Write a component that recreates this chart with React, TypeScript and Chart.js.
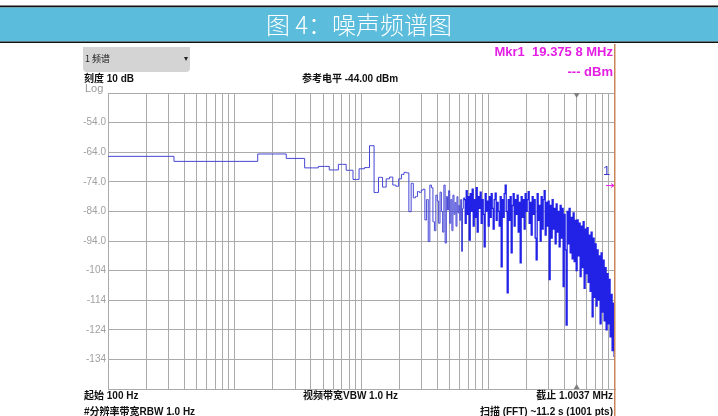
import { useEffect, useRef } from 'react';
import { Chart, registerables } from 'chart.js';

Chart.register(...registerables);

const W = 718;
const H = 416;

// Low-frequency FFT bins (kHz) and levels (dBm), read step by step from the trace
const binFreqKHz = [
  0.1, 1.1, 2.1, 3.1, 4.1, 5.1, 6.1, 7.1, 8.1, 9.1,
  10.1, 11.1, 12.1, 13.1, 14.2, 15.2, 16.2, 17.2, 18.2, 19.2,
  20.2, 21.2, 22.2, 23.2, 24.2, 25.2, 26.2, 27.2, 28.2, 29.2,
  30.2, 31.2, 32.2, 33.2, 34.2, 35.2, 36.2, 37.2, 38.2, 39.2,
  40.2, 41.2, 42.3, 43.3, 44.3, 45.3, 46.3, 47.3, 48.3, 49.3,
  50.3, 51.3, 52.3, 53.3, 54.3, 55.3, 56.3, 57.3, 58.3, 59.3,
  60.3, 61.3, 62.3, 63.3, 64.3,
];
const binLevelDbm = [
  -65.4, -67.1, -64.6, -66.1, -69.3, -68.8, -70.0, -68.1, -70.1, -73.2,
  -69.6, -69.2, -61.8, -77.6, -72.5, -75.8, -73.0, -72.4, -75.1, -75.5,
  -73.0, -71.5, -70.8, -71.0, -84.1, -74.5, -79.4, -79.0, -77.3, -77.6,
  -76.8, -76.5, -86.9, -80.0, -94.2, -75.1, -76.0, -87.5, -90.5, -78.5,
  -80.5, -88.0, -77.5, -84.0, -91.0, -75.1, -94.7, -79.0, -83.5, -77.0,
  -88.0, -80.0, -90.5, -78.5, -85.0, -81.0, -89.0, -79.0, -84.5, -82.0,
  -87.0, -80.0, -97.5, -83.0, -79.5,
];

// Dense upper part of the spectrum (kHz, dBm), read column by column
const denseFreqKHz = [
  65.4, 66.6, 67.8, 69.0, 70.3,
  71.6, 72.9, 74.2, 75.6, 77.0,
  78.4, 79.8, 81.3, 82.8, 84.3,
  85.9, 87.4, 89.0, 90.7, 92.3,
  94.0, 95.7, 97.5, 99.3, 101.1,
  103.0, 104.9, 106.8, 108.7, 110.7,
  112.7, 114.8, 116.9, 119.0, 121.2,
  123.5, 125.7, 128.0, 130.4, 132.8,
  135.2, 137.7, 140.2, 142.8, 145.4,
  148.0, 150.7, 153.5, 156.3, 159.2,
  162.1, 165.1, 168.1, 171.2, 174.3,
  177.6, 180.8, 184.1, 187.5, 190.9,
  194.4, 198.0, 201.6, 205.3, 209.1,
  212.9, 216.8, 220.8, 224.8, 228.9,
  233.1, 237.4, 241.7, 246.2, 250.7,
  255.3, 260.0, 264.7, 269.6, 274.5,
  279.6, 284.7, 289.9, 295.2, 300.6,
  306.1, 311.7, 317.5, 323.3, 329.2,
  335.2, 341.4, 347.6, 354.0, 360.5,
  367.1, 373.8, 380.7, 387.6, 394.7,
  401.9, 409.3, 416.8, 424.4, 432.2,
  440.1, 448.2, 456.4, 464.7, 473.3,
  482.0, 490.8, 499.8, 509.0, 518.3,
  527.8, 537.5, 547.3, 557.4, 567.6,
  577.9, 588.5, 599.3, 610.3, 621.5,
  632.9, 644.5, 656.3, 668.3, 680.6,
  693.0, 705.7, 718.7, 731.8, 745.2,
  758.8, 772.8, 786.9, 801.4, 816.1,
  831.1, 846.3, 861.8, 877.6, 893.7,
  910.0, 926.7, 943.7, 961.0, 978.6,
  996.5, 1003.7,
];
const denseLevelDbm = [
  -80, -88, -77, -85, -79,
  -93.7, -78, -84, -76.5, -89,
  -80, -86, -76, -91, -79,
  -83, -77.5, -88, -80, -85,
  -96, -78, -84, -80.5, -89,
  -79, -86, -78, -83, -90,
  -80, -77.8, -87, -81, -84,
  -89, -79, -102.7, -80, -86,
  -78, -75.1, -84, -111.5, -80,
  -87, -79, -98, -82, -78,
  -89, -80, -85, -78.5, -91,
  -81, -101.4, -79, -86, -80,
  -90, -78, -84, -80, -77.3,
  -88, -81, -92, -79, -85,
  -80, -93, -100.4, -78, -87,
  -82, -94, -79, -90, -80,
  -77, -92, -81, -89, -80.5,
  -107, -82, -93, -80, -90,
  -83, -95, -81.5, -91, -84,
  -96, -82, -93, -83, -109.4,
  -85, -97, -122.4, -84, -95,
  -83, -98, -86, -100, -84.5,
  -101, -87, -104, -86.9, -99,
  -88, -106, -89, -103, -87.5,
  -110, -90, -105, -89.5, -108,
  -92, -111, -91, -119.6, -93,
  -113, -95, -116, -97, -114,
  -99, -122, -98, -118, -100.5,
  -121, -103, -124, -105, -122,
  -107, -126.4, -112, -131, -115,
  -133, -118,
];

// Log grid (Hz)
const xGridHz = [
  100, 200, 300, 400, 500, 600, 700, 800, 900,
  1000, 2000, 3000, 4000, 5000, 6000, 7000, 8000, 9000,
  10000, 20000, 30000, 40000, 50000, 60000, 70000, 80000, 90000,
  100000, 200000, 300000, 400000, 500000, 600000, 700000, 800000, 900000,
  1000000,
];
const xMinHz = 100;
const xMaxHz = 1003700;

const yTickValues = [-144, -134, -124, -114, -104, -94, -84, -74, -64, -54, -44];
const yTickLabels = ['', '-134', '-124', '-114', '-104', '-94.0', '-84.0', '-74.0', '-64.0', '-54.0', ''];

const markerFreqHz = 500000;
const markerLevelDbm = -75.1;

const GRID = '#aaaaaa';
const MAGENTA = '#e41ee4';
const TRACE_LIGHT = '#4646d6';
const TRACE_DENSE = '#2222e6';
const LATIN = '"Liberation Sans", Arial, "Noto Sans CJK SC", sans-serif';

export default function App() {
  const ref = useRef<HTMLCanvasElement>(null);

  useEffect(() => {
    const canvas = ref.current;
    if (!canvas) return;

    const lowPoints = binFreqKHz.map((f, i) => ({ x: f * 1000, y: binLevelDbm[i] }));
    const densePoints = denseFreqKHz.map((f, i) => ({ x: f * 1000, y: denseLevelDbm[i] }));
    const lastLow = lowPoints[lowPoints.length - 1];

    const overlay = {
      id: 'overlay',
      beforeDraw(chart: any) {
        const ctx = chart.ctx as CanvasRenderingContext2D;
        ctx.save();
        ctx.fillStyle = '#ffffff';
        ctx.fillRect(0, 0, W, H);
        // header bar
        ctx.fillStyle = '#111111';
        ctx.fillRect(0, 5.5, W, 2);
        ctx.fillStyle = '#5bbddb';
        ctx.fillRect(0, 7.5, W, 34);
        ctx.fillStyle = '#111111';
        ctx.fillRect(0, 41.5, W, 1.5);
        ctx.fillStyle = '#ffffff';
        ctx.font = '300 24px "Noto Sans CJK SC", sans-serif';
        ctx.textAlign = 'center';
        ctx.textBaseline = 'middle';
        ctx.fillText('图 4：噪声频谱图', 359, 25);

        // dropdown box
        ctx.fillStyle = '#d4d4d4';
        ctx.beginPath();
        (ctx as any).roundRect(83, 47, 107, 25, [0, 0, 4, 4]);
        ctx.fill();
        ctx.fillStyle = '#222222';
        ctx.font = '9px "Noto Sans CJK SC", sans-serif';
        ctx.textAlign = 'left';
        ctx.fillText('1 频谱', 85, 59);
        ctx.beginPath();
        ctx.moveTo(184, 57);
        ctx.lineTo(188, 57);
        ctx.lineTo(186, 61);
        ctx.closePath();
        ctx.fill();
        ctx.restore();
      },
      afterDraw(chart: any) {
        const ctx = chart.ctx as CanvasRenderingContext2D;
        const xs = chart.scales.x;
        const ys = chart.scales.y;
        const area = chart.chartArea;
        ctx.save();
        ctx.textBaseline = 'middle';

        // top labels
        ctx.fillStyle = '#111111';
        ctx.font = `bold 10px ${LATIN}`;
        ctx.textAlign = 'left';
        ctx.fillText('刻度 10 dB', 84, 79.5);
        ctx.fillText('参考电平 -44.00 dBm', 302, 79.5);
        ctx.fillStyle = '#9a9a9a';
        ctx.font = `11px ${LATIN}`;
        ctx.textBaseline = 'alphabetic';
        ctx.fillText('Log', 85, 92);
        ctx.textBaseline = 'middle';

        ctx.fillStyle = MAGENTA;
        ctx.font = `bold 13px ${LATIN}`;
        ctx.textAlign = 'right';
        ctx.fillText('Mkr1  19.375 8 MHz', 613, 52);
        ctx.fillText('--- dBm', 613, 72.5);

        // bottom labels
        ctx.fillStyle = '#111111';
        ctx.font = `bold 10px ${LATIN}`;
        ctx.textAlign = 'left';
        ctx.fillText('起始 100 Hz', 84, 396.5);
        ctx.fillText('视频带宽VBW 1.0 Hz', 303, 396.5);
        ctx.fillText('#分辨率带宽RBW 1.0 Hz', 84, 412);
        ctx.textAlign = 'right';
        ctx.fillText('截止 1.0037 MHz', 613, 396.5);
        ctx.fillText('扫描 (FFT) ~11.2 s (1001 pts)', 613, 412);

        // marker triangles
        const mx = xs.getPixelForValue(markerFreqHz);
        ctx.fillStyle = '#808080';
        ctx.beginPath();
        ctx.moveTo(mx - 3, area.top);
        ctx.lineTo(mx + 3, area.top);
        ctx.lineTo(mx, area.top + 5);
        ctx.closePath();
        ctx.fill();
        ctx.beginPath();
        ctx.moveTo(mx - 3, area.bottom);
        ctx.lineTo(mx + 3, area.bottom);
        ctx.lineTo(mx, area.bottom - 5);
        ctx.closePath();
        ctx.fill();

        // marker 1 label at right edge
        const my = ys.getPixelForValue(markerLevelDbm);
        ctx.fillStyle = '#3a3ad0';
        ctx.font = `13px ${LATIN}`;
        ctx.textAlign = 'center';
        ctx.fillText('1', 606.5, my - 14);
        ctx.strokeStyle = MAGENTA;
        ctx.lineWidth = 1;
        ctx.beginPath();
        ctx.moveTo(606, my + 0.5);
        ctx.lineTo(614, my + 0.5);
        ctx.moveTo(611, my - 1.5);
        ctx.lineTo(614, my + 0.5);
        ctx.lineTo(611, my + 2.5);
        ctx.stroke();

        // orange right border
        ctx.strokeStyle = '#c9865a';
        ctx.lineWidth = 1.5;
        ctx.beginPath();
        ctx.moveTo(614.75, 44);
        ctx.lineTo(614.75, H);
        ctx.stroke();
        ctx.restore();
      },
    };

    const chart = new Chart(canvas, {
      type: 'line',
      data: {
        datasets: [
          {
            data: lowPoints,
            stepped: 'middle',
            borderColor: TRACE_LIGHT,
            borderWidth: 1,
            pointRadius: 0,
            fill: false,
            tension: 0,
          },
          {
            data: [lastLow, ...densePoints],
            stepped: 'middle',
            borderColor: TRACE_DENSE,
            borderWidth: 1.3,
            pointRadius: 0,
            fill: false,
            tension: 0,
          },
        ],
      },
      options: {
        responsive: false,
        maintainAspectRatio: false,
        animation: false,
        events: [],
        layout: { padding: { top: 93, right: 103, left: 0, bottom: 0 } },
        plugins: { legend: { display: false }, tooltip: { enabled: false }, title: { display: false } },
        scales: {
          x: {
            type: 'logarithmic',
            min: xMinHz,
            max: xMaxHz,
            afterBuildTicks: (s: any) => {
              s.ticks = xGridHz.map((v) => ({ value: v }));
            },
            afterFit: (s: any) => {
              s.height = 27;
            },
            ticks: { display: false },
            grid: { color: GRID, drawTicks: false, lineWidth: 1 },
            border: { color: GRID },
          },
          y: {
            type: 'linear',
            min: -144,
            max: -44,
            afterBuildTicks: (s: any) => {
              s.ticks = yTickValues.map((v) => ({ value: v }));
            },
            afterFit: (s: any) => {
              s.width = 108;
            },
            ticks: {
              color: '#a0a0a0',
              font: { family: LATIN, size: 10 },
              padding: 2,
              callback: (v: any) => {
                const i = yTickValues.indexOf(Number(v));
                return i >= 0 ? yTickLabels[i] : '';
              },
            },
            grid: { color: GRID, drawTicks: false, lineWidth: 1 },
            border: { color: GRID },
          },
        },
      },
      plugins: [overlay],
    } as any);

    return () => chart.destroy();
  }, []);

  return (
    <div style={{ position: 'fixed', left: 0, top: 0, width: W, height: H, background: '#fff' }}>
      <canvas ref={ref} width={W} height={H} style={{ width: W, height: H, display: 'block' }} />
    </div>
  );
}
